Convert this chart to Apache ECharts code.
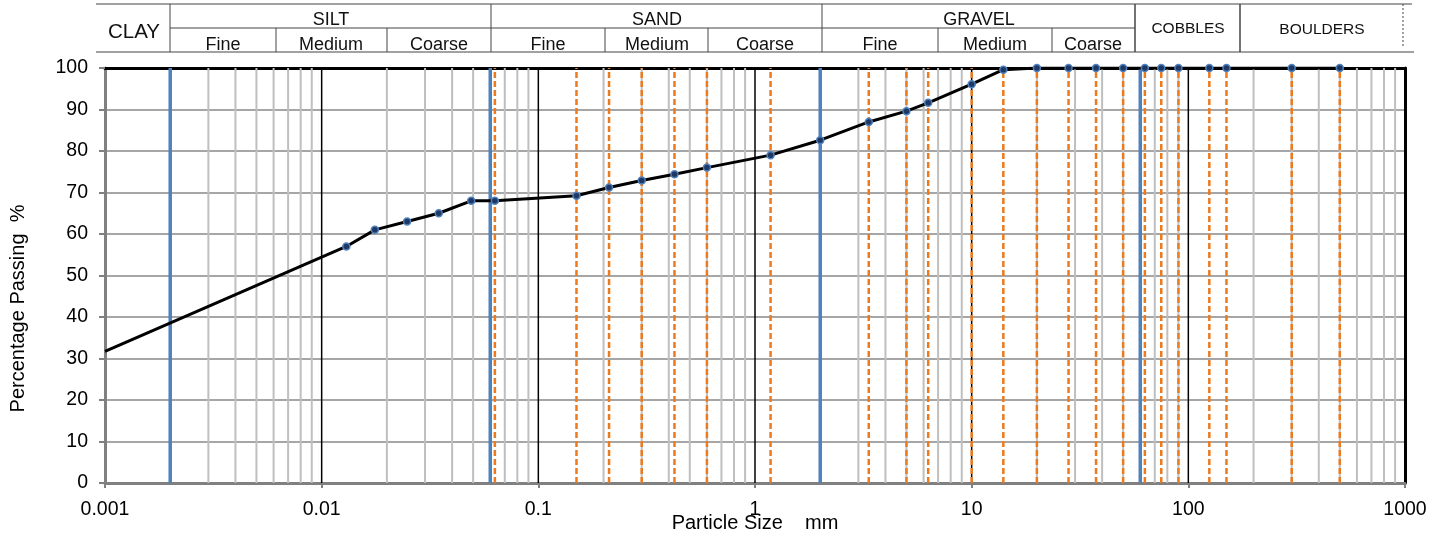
<!DOCTYPE html>
<html>
<head>
<meta charset="utf-8">
<script src="https://cdn.jsdelivr.net/npm/echarts@6/dist/echarts.min.js"></script>
<style>
  html, body { margin: 0; padding: 0; background: #fff; }
  #chart { width: 1446px; height: 536px; }
</style>
</head>
<body>
<div id="chart"></div>
<script>
// particle size (mm) and percentage passing
const sizes = [0.001, 0.013, 0.0176, 0.0248, 0.0347, 0.049, 0.063, 0.15, 0.212, 0.3, 0.425, 0.6, 1.18, 2,
  3.35, 5, 6.3, 10, 14, 20, 28, 37.5, 50, 63, 75, 90, 125, 150, 300, 500];
const passing = [31.7, 57, 61, 63, 65, 68, 68, 69.2, 71.2, 72.9, 74.4, 76.0, 79.0, 82.6,
  87.0, 89.6, 91.6, 96.1, 99.6, 100, 100, 100, 100, 100, 100, 100, 100, 100, 100, 100];
// sieve sizes drawn as dashed lines
const sieves = [0.063, 0.15, 0.212, 0.3, 0.425, 0.6, 1.18, 3.35, 5, 6.3, 10, 14, 20, 28, 37.5, 50, 63,
  75, 90, 125, 150, 300, 500];
// soil class boundaries
const boundaries = [0.002, 0.06, 2, 60];
const xTickLabels = ['0.001', '0.01', '0.1', '1', '10', '100', '1000'];
const decades = [0.001, 0.01, 0.1, 1, 10, 100, 1000];

const FONT = 'Liberation Sans, Arial, sans-serif';

// minor log grid lines (2..9 in each decade)
let minors = [];
for (let d of decades.slice(0, -1)) {
  for (let m = 2; m <= 9; m++) minors.push(+(d * m).toPrecision(3));
}

// full-height vertical lines at given particle sizes
function vLineSeries(values, style, z) {
  return {
    type: 'custom', silent: true, z: z,
    data: values.map(v => [v, 0]),
    renderItem: function (params, api) {
      let p0 = api.coord([api.value(0), 0]);
      let p1 = api.coord([api.value(0), 100]);
      return { type: 'line', shape: { x1: p0[0], y1: p0[1], x2: p1[0], y2: p1[1] }, style: style };
    }
  };
}

// header table
let header = [];
function hline(x1, x2, y, w) {
  header.push({ type: 'line', shape: { x1: x1, y1: y, x2: x2, y2: y }, style: { stroke: '#444', lineWidth: w || 1 } });
}
function vline(x, y1, y2, w, dash) {
  header.push({ type: 'line', shape: { x1: x, y1: y1, x2: x, y2: y2 }, style: { stroke: '#444', lineWidth: w || 1, lineDash: dash || null } });
}
function label(text, x, y, size) {
  header.push({ type: 'text', x: x, y: y, style: { text: text, font: size + 'px ' + FONT, fill: '#111', align: 'center', verticalAlign: 'middle' } });
}
hline(96, 1412, 4);
hline(170, 1135, 28);
hline(96, 1414, 52);
[170, 491, 822].forEach(x => vline(x, 4, 52));
[1135, 1240].forEach(x => vline(x, 4, 52, 1.5));
[276, 387, 605, 708, 938, 1052].forEach(x => vline(x, 28, 52));
vline(1403, 4, 48, 1, [2, 2]);
label('CLAY', 134, 32, 20.5);
label('SILT', 331, 20, 18);
label('SAND', 657, 20, 18);
label('GRAVEL', 979, 20, 18);
[[223, 'Fine'], [331, 'Medium'], [439, 'Coarse'], [548, 'Fine'], [657, 'Medium'], [765, 'Coarse'],
 [880, 'Fine'], [995, 'Medium'], [1093, 'Coarse']].forEach(c => label(c[1], c[0], 45, 18));
label('COBBLES', 1188, 29, 15.5);
label('BOULDERS', 1322, 30, 15.5);

const chart = echarts.init(document.getElementById('chart'));
chart.setOption({
  animation: false,
  grid: { left: 105, right: 41, top: 68, bottom: 53, containLabel: false, outerBoundsMode: 'none' },
  graphic: header,
  xAxis: [{
    type: 'log', logBase: 10, min: 0.001, max: 1000, splitNumber: 6,
    name: 'Particle Size    mm', nameLocation: 'middle', nameGap: 30, nameMoveOverlap: false,
    nameTextStyle: { fontFamily: FONT, fontSize: 20, color: '#000' },
    axisLine: { onZero: false, lineStyle: { color: '#808080', width: 3 } },
    axisTick: { show: true, length: 5, lineStyle: { color: '#808080', width: 2 } },
    axisLabel: {
      margin: 17, fontFamily: FONT, fontSize: 19.5, color: '#000',
      formatter: (v, i) => xTickLabels[i] !== undefined ? xTickLabels[i] : ''
    },
    splitLine: { show: false }
  }, {
    type: 'log', logBase: 10, min: 0.001, max: 1000, position: 'top',
    axisLine: { onZero: false, lineStyle: { color: '#000', width: 3 } },
    axisTick: { show: false }, axisLabel: { show: false }, splitLine: { show: false }
  }],
  yAxis: [{
    type: 'value', min: 0, max: 100, interval: 10,
    name: 'Percentage Passing  %', nameLocation: 'middle', nameGap: 77, nameRotate: 90, nameMoveOverlap: false,
    nameTextStyle: { fontFamily: FONT, fontSize: 20, color: '#000', padding: [0, 66, 0, 0] },
    axisLine: { show: true, lineStyle: { color: '#808080', width: 3 } },
    axisTick: { show: true, length: 6, lineStyle: { color: '#808080', width: 2 } },
    axisLabel: { margin: 17, fontFamily: FONT, fontSize: 19.5, color: '#000' },
    splitLine: { lineStyle: { color: '#A6A6A6', width: 2 } }
  }, {
    type: 'value', min: 0, max: 100, position: 'right',
    axisLine: { show: true, lineStyle: { color: '#000', width: 3 } },
    axisTick: { show: false }, axisLabel: { show: false }, splitLine: { show: false }
  }],
  series: [
    vLineSeries(minors, { stroke: '#BFBFBF', lineWidth: 2 }, 1),
    vLineSeries(decades.slice(1, -1), { stroke: '#000', lineWidth: 1.5 }, 2),
    vLineSeries(sieves, { stroke: '#EC7A1E', lineWidth: 2.5, lineDash: [6, 3] }, 3),
    vLineSeries(boundaries, { stroke: '#4F81BD', lineWidth: 3.5 }, 4),
    {
      type: 'line', z: 5,
      data: sizes.map((s, i) => i === 0 ? { value: [s, passing[i]], symbol: 'none' } : [s, passing[i]]),
      symbol: 'circle', symbolSize: 7,
      lineStyle: { color: '#000', width: 3 },
      itemStyle: { color: '#1F3864', borderColor: '#4F81BD', borderWidth: 1.5 }
    }
  ]
});
</script>
</body>
</html>
